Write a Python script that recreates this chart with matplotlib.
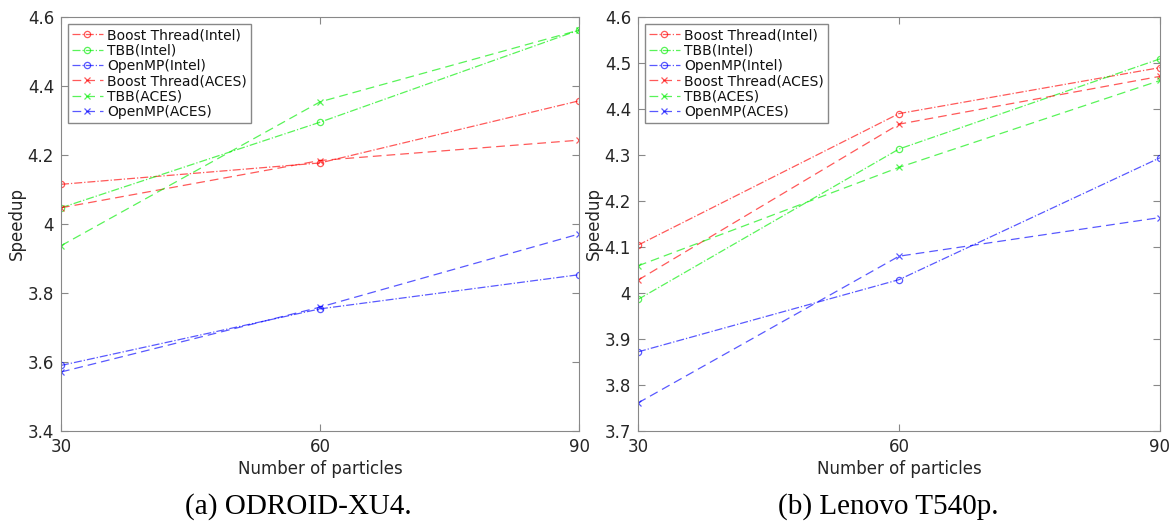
import matplotlib
matplotlib.use('Agg')
import matplotlib.pyplot as plt

particles = [30, 60, 90]
labels = ['Boost Thread(Intel)', 'TBB(Intel)', 'OpenMP(Intel)',
          'Boost Thread(ACES)', 'TBB(ACES)', 'OpenMP(ACES)']

# (a) ODROID-XU4
odroid_boost_intel = [4.115, 4.177, 4.357]
odroid_tbb_intel = [4.047, 4.295, 4.562]
odroid_omp_intel = [3.590, 3.754, 3.853]
odroid_boost_aces = [4.047, 4.184, 4.243]
odroid_tbb_aces = [3.937, 4.354, 4.562]
odroid_omp_aces = [3.571, 3.759, 3.971]

# (b) Lenovo T540p
lenovo_boost_intel = [4.104, 4.390, 4.490]
lenovo_tbb_intel = [3.986, 4.313, 4.509]
lenovo_omp_intel = [3.872, 4.029, 4.294]
lenovo_boost_aces = [4.028, 4.367, 4.471]
lenovo_tbb_aces = [4.059, 4.273, 4.462]
lenovo_omp_aces = [3.761, 4.080, 4.164]

colors = ['#ff0000', '#00ee00', '#0000ff']
frame_gray = '#888888'
text_gray = '#262626'


def draw(ax, series, ylim, yticks, ylabels):
    for i, ys in enumerate(series):
        c = colors[i % 3]
        if i < 3:
            ax.plot(particles, ys, linestyle='-.', marker='o', color=c, alpha=0.65,
                    lw=0.9, ms=4.5, mfc='none', mew=0.9, label=labels[i])
        else:
            ax.plot(particles, ys, linestyle=(0, (7, 4)), marker='x', color=c, alpha=0.65,
                    lw=0.9, ms=4.5, mew=0.9, label=labels[i])
    ax.set_xlim(30, 90)
    ax.set_ylim(*ylim)
    ax.set_xticks(particles)
    ax.set_yticks(yticks)
    ax.set_yticklabels(ylabels)
    ax.tick_params(direction='in', top=True, right=True, colors=frame_gray,
                   labelcolor=text_gray, labelsize=12, length=5, pad=5)
    for s in ax.spines.values():
        s.set_color(frame_gray)
    ax.set_xlabel('Number of particles', fontsize=12, color=text_gray, labelpad=3)
    ax.set_ylabel('Speedup', fontsize=12, color=text_gray, labelpad=1)
    leg = ax.legend(loc='upper left', fontsize=10, fancybox=False, handlelength=2.2,
                    borderpad=0.3, labelspacing=0.1, handletextpad=0.3,
                    borderaxespad=0.5, framealpha=1)
    leg.get_frame().set_edgecolor(frame_gray)
    for t in leg.get_texts():
        t.set_color('#111111')


fig = plt.figure(figsize=(11.75, 5.24), dpi=100)
ax1 = fig.add_axes([61 / 1175, 1 - 431 / 524, 518 / 1175, 414 / 524])
ax2 = fig.add_axes([638 / 1175, 1 - 431 / 524, 522 / 1175, 414 / 524])

draw(ax1, [odroid_boost_intel, odroid_tbb_intel, odroid_omp_intel,
           odroid_boost_aces, odroid_tbb_aces, odroid_omp_aces],
     (3.4, 4.6), [3.4, 3.6, 3.8, 4.0, 4.2, 4.4, 4.6],
     ['3.4', '3.6', '3.8', '4', '4.2', '4.4', '4.6'])
draw(ax2, [lenovo_boost_intel, lenovo_tbb_intel, lenovo_omp_intel,
           lenovo_boost_aces, lenovo_tbb_aces, lenovo_omp_aces],
     (3.7, 4.6), [3.7, 3.8, 3.9, 4.0, 4.1, 4.2, 4.3, 4.4, 4.5, 4.6],
     ['3.7', '3.8', '3.9', '4', '4.1', '4.2', '4.3', '4.4', '4.5', '4.6'])

fig.text(298 / 1175, 1 - 507 / 524, '(a) ODROID-XU4.', family='Liberation Serif',
         fontsize=21, ha='center', va='center')
fig.text(888 / 1175, 1 - 507 / 524, '(b) Lenovo T540p.', family='Liberation Serif',
         fontsize=21, ha='center', va='center')

fig.savefig('out.png', dpi=100)
